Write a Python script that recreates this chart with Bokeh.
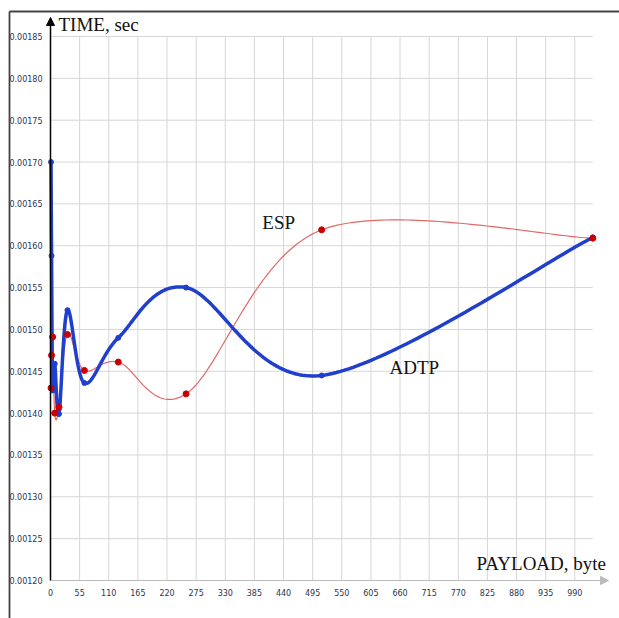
import numpy as np
from bokeh.plotting import figure
from bokeh.models import Range1d, Arrow, NormalHead
from bokeh.core.properties import value
from bokeh.embed import file_html
from bokeh.resources import INLINE

# ---- data ----
payload = [1, 2, 4, 8, 16, 32, 64, 128, 256, 512, 1024]
esp_time = [0.00143, 0.001469, 0.001491, 0.00140, 0.001407, 0.001494,
            0.001451, 0.001461, 0.001423, 0.001619, 0.001609]
adtp_time = [0.00170, 0.001588, 0.00143, 0.001459, 0.001399, 0.001523,
             0.001436, 0.00149, 0.00155, 0.001445, 0.00161]
x_ticks = list(range(0, 1000, 55))
x_tick_labels = [str(v) for v in x_ticks]
y_ticks = [0.00120, 0.00125, 0.00130, 0.00135, 0.00140, 0.00145, 0.00150,
           0.00155, 0.00160, 0.00165, 0.00170, 0.00175, 0.00180, 0.00185]
y_tick_labels = [f"{v:.5f}" for v in y_ticks]

X_MIN, X_MAX = 0, 1024
Y_MIN, Y_MAX = 0.00120, 0.00185


def catmull_rom(xs, ys, n=60):
    P = np.column_stack([np.asarray(xs, float), np.asarray(ys, float)])
    pts = np.vstack([P[0], P, P[-1]])
    out = []
    t = np.linspace(0, 1, n, endpoint=False)[:, None]
    h00 = 2 * t**3 - 3 * t**2 + 1
    h10 = t**3 - 2 * t**2 + t
    h01 = -2 * t**3 + 3 * t**2
    h11 = t**3 - t**2
    for i in range(1, len(pts) - 2):
        p0, p1, p2, p3 = pts[i - 1], pts[i], pts[i + 1], pts[i + 2]
        m1 = (p2 - p0) / 2
        m2 = (p3 - p1) / 2
        out.append(h00 * p1 + h10 * m1 + h01 * p2 + h11 * m2)
    out.append(P[-1][None, :])
    c = np.vstack(out)
    return c[:, 0], c[:, 1]


# pixel scale of the reference: 0.5296 px per byte, 836923 px per second
XS = 0.5296
YS = 836923.0


def px_x(dx):  # horizontal pixel offset -> data units
    return dx / XS


def px_y(dy):
    return dy / YS


W, H = 619, 618
OX, OY = 50, 580  # canvas position of the data origin (0, 0.0012)
x0 = -px_x(OX)
x1 = x0 + px_x(W)
y0 = Y_MIN - px_y(H - OY)
y1 = y0 + px_y(H)

p = figure(width=W, height=H, output_backend="svg", toolbar_location=None,
           x_range=Range1d(x0, x1), y_range=Range1d(y0, y1),
           min_border=0)
p.xaxis.visible = False
p.yaxis.visible = False
p.grid.visible = False
p.outline_line_color = None
p.background_fill_color = "white"
p.border_fill_color = "white"

# grid
p.segment(x0=x_ticks, y0=[Y_MIN] * len(x_ticks), x1=x_ticks, y1=[Y_MAX] * len(x_ticks),
          line_color="#d6d6d6", line_width=1)
p.segment(x0=[X_MIN] * len(y_ticks), y0=y_ticks, x1=[X_MAX] * len(y_ticks), y1=y_ticks,
          line_color="#d6d6d6", line_width=1)

# frame decoration (top and left border of the original picture)
bl = x0 + px_x(9)
bt = y1 - px_y(11)
p.segment(x0=[bl, bl], y0=[bt, bt], x1=[x1, bl], y1=[bt, y0],
          line_color="#444444", line_width=1.8)

# tick labels
tick_font = value("DejaVu Sans")
p.text(x=[-px_x(8)] * len(y_ticks), y=y_ticks, text=y_tick_labels,
       text_font=tick_font, text_font_size="8px", text_color="#2a3550",
       text_align="right", text_baseline="middle")
p.text(x=x_ticks, y=[Y_MIN - px_y(12)] * len(x_ticks), text=x_tick_labels,
       text_font=tick_font, text_font_size="8px", text_color="#2a3550",
       text_align="center", text_baseline="middle")

# curves
ex, ey = catmull_rom(payload, esp_time)
bx, by = catmull_rom(payload, adtp_time)
p.line(ex, ey, line_color="#e06868", line_width=1.2)
p.line(bx, by, line_color="#1f3fcc", line_width=3.5)
p.scatter(payload, adtp_time, size=5, color="#1f3fcc")
p.scatter(payload, esp_time, size=6, color="#c80000")

# axis arrows
p.add_layout(Arrow(end=NormalHead(size=8, fill_color="#bbbbbb", line_color="#bbbbbb"),
                   x_start=X_MIN, y_start=Y_MIN, x_end=X_MIN + px_x(558), y_end=Y_MIN,
                   line_color="#bbbbbb", line_width=1.2))
p.add_layout(Arrow(end=NormalHead(size=8, fill_color="black", line_color="black"),
                   x_start=X_MIN, y_start=Y_MIN, x_end=X_MIN, y_end=Y_MIN + px_y(563),
                   line_color="black", line_width=1.5))

# titles and series labels
serif = value("Liberation Serif")
p.text(x=[X_MIN + px_x(8)], y=[Y_MIN + px_y(556)], text=["TIME, sec"],
       text_font=serif, text_font_size="19px", text_baseline="middle",
       text_color="#111111")
p.text(x=[X_MIN + px_x(426)], y=[Y_MIN + px_y(17)], text=["PAYLOAD, byte"],
       text_font=serif, text_font_size="19px", text_baseline="middle",
       text_color="#111111")
p.text(x=[400], y=[0.001628], text=["ESP"], text_font=serif,
       text_font_size="19px", text_baseline="middle", text_color="#111111")
p.text(x=[640], y=[0.0014545], text=["ADTP"], text_font=serif,
       text_font_size="19px", text_baseline="middle", text_color="#111111")

open("out.html", "w").write(file_html(p, INLINE))
